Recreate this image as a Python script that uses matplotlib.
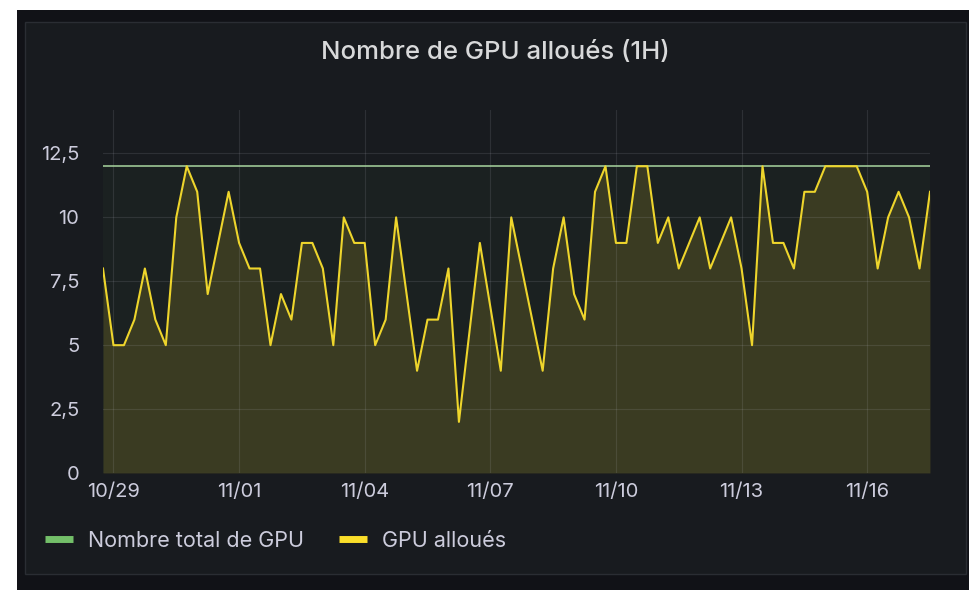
import matplotlib
matplotlib.use("Agg")
import matplotlib.pyplot as plt
import matplotlib.dates as mdates
from matplotlib.lines import Line2D
from matplotlib.patches import Rectangle
import pandas as pd

# Données (pas de 6 h)
start = "2023-10-28 18:00"
alloues = [8, 5, 5, 6, 8, 6, 5, 10, 12, 11,
           7, 9, 11, 9, 8, 8, 5, 7, 6, 9,
           9, 8, 5, 10, 9, 9, 5, 6, 10, 7,
           4, 6, 6, 8, 2, 5.5, 9, 6.5, 4, 10,
           8, 6, 4, 8, 10, 7, 6, 11, 12, 9,
           9, 12, 12, 9, 10, 8, 9, 10, 8, 9,
           10, 8, 5, 12, 9, 9, 8, 11, 11, 12,
           12, 12, 12, 11, 8, 10, 11, 10, 8, 11]
total_gpu = 12
y_ticks = [0, 2.5, 5, 7.5, 10, 12.5]
y_labels = ["0", "2,5", "5", "7,5", "10", "12,5"]
x_tick_dates = ["2023-10-29", "2023-11-01", "2023-11-04", "2023-11-07",
                "2023-11-10", "2023-11-13", "2023-11-16"]

times = pd.date_range(start, periods=len(alloues), freq="6h")
total = [total_gpu] * len(alloues)

plt.rcParams["font.family"] = ["Inter", "DejaVu Sans"]

W, H = 969, 590
fig = plt.figure(figsize=(W / 100, H / 100), dpi=100, facecolor="white")

# fond extérieur + panneau
fig.patches.append(Rectangle((17 / W, 0), 1 - 17 / W, 1 - 10 / H,
                             transform=fig.transFigure, facecolor="#111217",
                             edgecolor="none", zorder=-2))
fig.patches.append(Rectangle((25 / W, 1 - 574 / H), (966 - 25) / W, (574 - 22) / H,
                             transform=fig.transFigure, facecolor="#181b1f",
                             edgecolor="#2a2d33", linewidth=1, zorder=-1))

ax = fig.add_axes([103 / W, 1 - 473 / H, (930 - 103) / W, (473 - 110) / H])
ax.set_facecolor("none")
ax.set_zorder(1)

ax.fill_between(times, 0, total, color="#73BF69", alpha=0.04, linewidth=0)
ax.fill_between(times, 0, alloues, color="#FADE2A", alpha=0.14, linewidth=0)
ax.plot(times, total, color="#a9d6a0", linewidth=1.1)
ax.plot(times, alloues, color="#EED52C", linewidth=1.5)

ax.set_xlim(times[0], times[-1])
ax.set_ylim(0, 14.2)

ax.set_yticks(y_ticks)
ax.set_yticklabels(y_labels)
ax.set_xticks(pd.to_datetime(x_tick_dates))
ax.xaxis.set_major_formatter(mdates.DateFormatter("%m/%d"))

ax.grid(True, color="#ccccdc", alpha=0.12, linewidth=0.8)
for s in ax.spines.values():
    s.set_visible(False)
ax.tick_params(length=0, colors="#ccccdc", labelsize=14.5)
ax.tick_params(axis="y", pad=17)
ax.tick_params(axis="x", pad=7)

fig.text(495 / W, 1 - 53 / H, "Nombre de GPU alloués (1H)", color="#d8d9da",
         fontsize=18.5, ha="center", va="center", fontweight="medium")

handles = [Line2D([], [], color="#73BF69", linewidth=5, solid_capstyle="butt"),
           Line2D([], [], color="#FADE2A", linewidth=5, solid_capstyle="butt")]
leg = fig.legend(handles, ["Nombre total de GPU", "GPU alloués"],
                 loc="center left", bbox_to_anchor=(26 / W, 1 - 541 / H),
                 ncol=2, frameon=False, fontsize=15.5, handlelength=1.3,
                 handletextpad=0.7, columnspacing=1.6, labelcolor="#ccccdc")

fig.savefig("out.png", dpi=100, facecolor=fig.get_facecolor())
